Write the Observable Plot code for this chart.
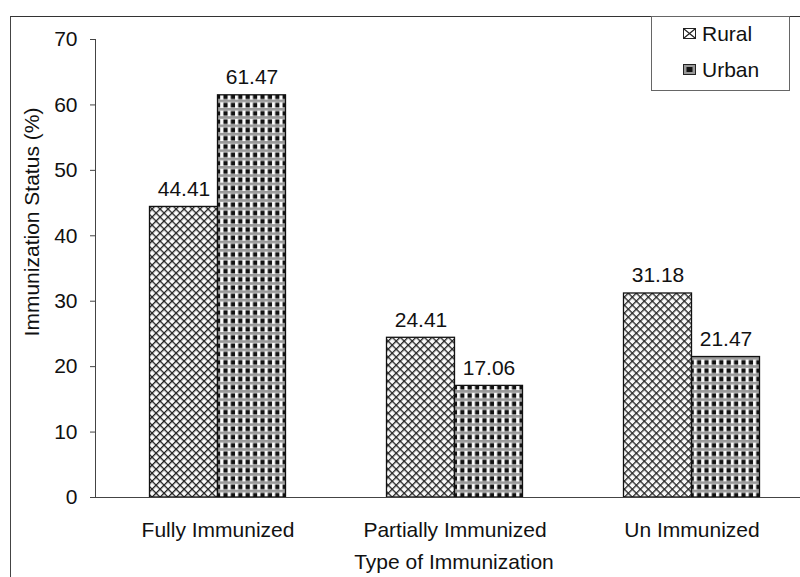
<!DOCTYPE html>
<html>
<head>
<meta charset="utf-8">
<script src="https://cdn.jsdelivr.net/npm/d3@7"></script>
<script src="https://cdn.jsdelivr.net/npm/@observablehq/plot@0.6"></script>
<style>
  html, body { margin: 0; padding: 0; background: #fff; }
  #wrap { position: relative; width: 800px; height: 577px; overflow: hidden; background: #fff; font-family: "Liberation Sans", Arial, sans-serif; color: #111; }
  #chart { position: absolute; left: 0; top: 0; }
  #border { position: absolute; left: 10px; top: 16px; width: 820px; height: 600px; border-left: 1.5px solid #444; border-top: 1.5px solid #333; box-sizing: border-box; pointer-events: none; }
  #legend { position: absolute; left: 651px; top: 16px; width: 139px; height: 75px; border: 1px solid #666; box-sizing: border-box; background: #fff; }
  .item { position: absolute; left: 31px; display: flex; align-items: center; font-size: 21px; line-height: 1; }
  .item svg { margin-right: 6px; }
  #ytitle { position: absolute; left: 32px; top: 222px; font-size: 21px; white-space: nowrap; transform: translate(-50%, -50%) rotate(-90deg); }
</style>
</head>
<body>
<svg width="0" height="0" style="position:absolute">
  <defs>
    <pattern id="rural" patternUnits="userSpaceOnUse" width="5.66" height="5.66" patternTransform="rotate(45)">
      <rect width="5.66" height="5.66" fill="#fafafa"/>
      <rect x="0" y="0" width="1.3" height="5.66" fill="#222"/>
      <rect x="0" y="0" width="5.66" height="1.3" fill="#222"/>
    </pattern>
    <pattern id="urban" patternUnits="userSpaceOnUse" width="7.4" height="8.3">
      <rect width="7.4" height="8.3" fill="#fcfcfc"/>
      <rect x="0" y="0" width="7.4" height="2.6" fill="#999"/>
      <rect x="1.4" y="3.2" width="4.2" height="4.6" fill="#111"/>
    </pattern>
  </defs>
</svg>
<div id="wrap">
  <div id="chart"></div>
  <div id="border"></div>
  <div id="legend"></div>
  <div id="ytitle"></div>
</div>
<script>
const categories = ["Fully Immunized", "Partially Immunized", "Un Immunized"];
const seriesNames = ["Rural", "Urban"];
const ruralValues = [44.41, 24.41, 31.18];
const urbanValues = [61.47, 17.06, 21.47];
const yTicks = [0, 10, 20, 30, 40, 50, 60, 70];
const xTitle = "Type of Immunization";
const yTitle = "Immunization Status (%)";

const ruralData = categories.map((c, i) => ({cat: c, series: seriesNames[0], value: ruralValues[i]}));
const urbanData = categories.map((c, i) => ({cat: c, series: seriesNames[1], value: urbanValues[i]}));

const fontSize = 21;
const plot = Plot.plot({
  width: 800,
  height: 577,
  marginLeft: 95,
  marginRight: 0,
  marginTop: 39,
  marginBottom: 80,
  style: {fontFamily: "Liberation Sans, Arial, sans-serif", fontSize: fontSize + "px", color: "#111", background: "transparent"},
  x: {domain: categories, range: [98.5, 809.5], padding: 0},
  y: {domain: [0, 70]},
  marks: [
    Plot.barY(ruralData, {x: "cat", y: "value", fill: "url(#rural)", stroke: "#111", strokeWidth: 1.3, insetLeft: 50.5, insetRight: 118.5}),
    Plot.barY(urbanData, {x: "cat", y: "value", fill: "url(#urban)", stroke: "#111", strokeWidth: 1.3, insetLeft: 118.5, insetRight: 50.5}),
    Plot.text(ruralData, {x: "cat", y: "value", text: d => d.value.toFixed(2), dx: -34, dy: -18, fontSize, fill: "#111"}),
    Plot.text(urbanData, {x: "cat", y: "value", text: d => d.value.toFixed(2), dx: 34, dy: -18, fontSize, fill: "#111"}),
    Plot.frame({anchor: "left", stroke: "#444"}),
    Plot.ruleY([0], {stroke: "#444"}),
    Plot.axisY({ticks: yTicks, tickSize: 5, tickPadding: 13, label: null, fontSize, stroke: "#444"}),
    Plot.axisX({tickSize: 0, tickPadding: 25, label: null, fontSize}),
    Plot.text([xTitle], {frameAnchor: "bottom", dx: 6, dy: 71, fontSize, fill: "#111"})
  ]
});
document.getElementById("chart").appendChild(plot);
document.getElementById("ytitle").textContent = yTitle;

// Legend
const legend = document.getElementById("legend");
const swatches = {
  Rural: `<svg width="13" height="11"><rect x="0.5" y="0.5" width="12" height="10" fill="#fff" stroke="#222"/><path d="M1,1L12,10M12,1L1,10" stroke="#222" stroke-width="1.2"/></svg>`,
  Urban: `<svg width="13" height="11"><rect x="0.5" y="0.5" width="12" height="10" fill="#999" stroke="#222"/><rect x="3.5" y="3" width="6" height="5" fill="#111"/></svg>`
};
const legendTops = [6, 42];
seriesNames.forEach((name, i) => {
  const d = document.createElement("div");
  d.className = "item";
  d.style.top = legendTops[i] + "px";
  d.innerHTML = swatches[name] + `<span>${name}</span>`;
  legend.appendChild(d);
});
</script>
</body>
</html>
